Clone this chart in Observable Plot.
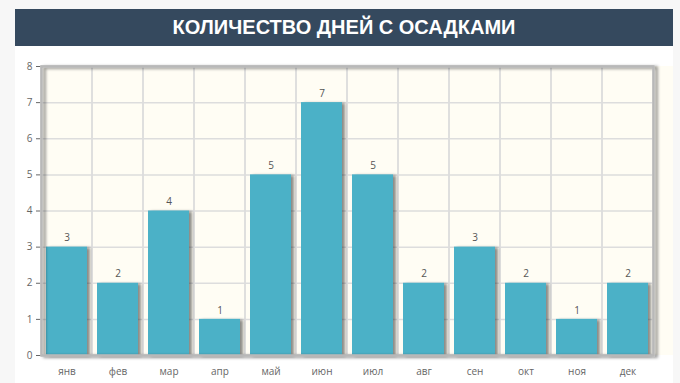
<!DOCTYPE html>
<html><head><meta charset="utf-8">
<script src="https://cdn.jsdelivr.net/npm/d3@7"></script>
<script src="https://cdn.jsdelivr.net/npm/@observablehq/plot@0.6"></script>
<style>
html,body{margin:0;padding:0;background:#f7f7f7;width:680px;height:383px;overflow:hidden;}
#panel{position:absolute;left:15px;top:9px;width:658px;height:374px;background:#fff;}
#title{height:37px;background:#35495e;color:#fff;font:bold 20px "Liberation Sans",Arial,sans-serif;text-align:center;line-height:37px;}
svg{display:block;}
</style></head><body>
<div id="panel"><div id="title">КОЛИЧЕСТВО ДНЕЙ С ОСАДКАМИ</div><div id="chart"></div></div>
<script>
const months = ["янв","фев","мар","апр","май","июн","июл","авг","сен","окт","ноя","дек"];
const days = [3,2,4,1,5,7,5,2,3,2,1,2];
const yTicks = [0,1,2,3,4,5,6,7,8];
const data = months.map((m,i)=>({month:m, value:days[i]}));

const chart = Plot.plot({
  width: 658, height: 337,
  marginLeft: 26, marginRight: 20, marginTop: 20, marginBottom: 28,
  style: {fontFamily: '"Open Sans","DejaVu Sans",sans-serif', fontSize: "10px", color: "#666", background: "transparent"},
  x: {domain: months, padding: 0, label: null, tickSize: 0, tickPadding: 12},
  y: {domain: [0, 8], ticks: yTicks, label: null, tickSize: 5, tickPadding: 4, tickFormat: d3.format("d")},
  marks: [
    Plot.rect([0], {x1: () => months[0], x2: () => months[11], y1: 0, y2: 8, fill: "#fffdf4", insetRight: -51}),
    Plot.gridY(yTicks, {stroke: "#ddd", strokeOpacity: 1, strokeWidth: 1.5}),
    Plot.barY(months, {x: d => d, y1: 0, y2: 8, fill: "none", stroke: "#ddd", strokeWidth: 1.5}),
    Plot.barY(data, {x: "month", y: "value", fill: "#4bb1c7", insetLeft: 5, insetRight: 5, className: "bars"}),
    Plot.text(data, {x: "month", y: "value", text: d => String(d.value), dy: -9, fill: "#555", fontSize: 10}),
    Plot.frame({stroke: "#b8b8b8", strokeWidth: 2.5, className: "frm"})
  ]
});
document.getElementById("chart").appendChild(chart);
const svg = d3.select(chart);
const defs = svg.insert("defs", ":first-child");
const f = defs.append("filter").attr("id","sh").attr("x","-20%").attr("y","-20%").attr("width","150%").attr("height","150%");
f.append("feDropShadow").attr("dx",3).attr("dy",1).attr("stdDeviation",1.5).attr("flood-color","#000").attr("flood-opacity",0.45);
svg.selectAll(".bars rect").attr("filter","url(#sh)");
svg.selectAll(".frm").attr("filter","url(#sh)");
</script>
</body></html>
